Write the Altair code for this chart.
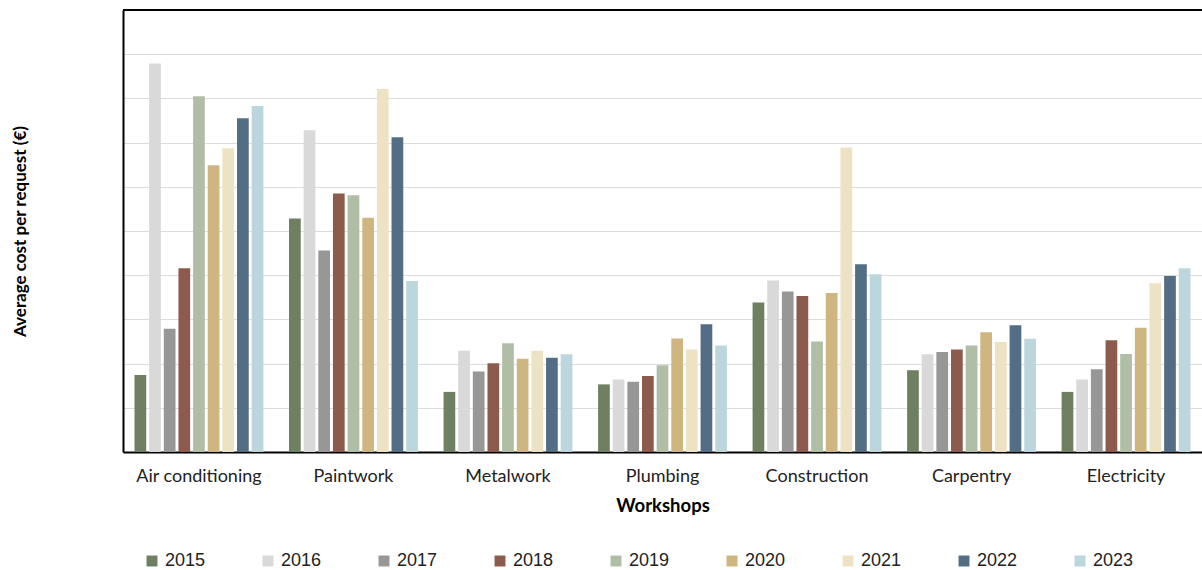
import altair as alt
import pandas as pd

workshops = ["Air conditioning", "Paintwork", "Metalwork", "Plumbing",
             "Construction", "Carpentry", "Electricity"]
years = ["2015", "2016", "2017", "2018", "2019", "2020", "2021", "2022", "2023"]
colors = ["#6e7f62", "#d9d9d9", "#969796", "#8c5b4d", "#b0bea5",
          "#cfb580", "#ede2c3", "#536e84", "#bcd6de"]

values = {
    "Air conditioning": [1.74, 8.79, 2.79, 4.16, 8.05, 6.49, 6.87, 7.55, 7.83],
    "Paintwork":        [5.28, 7.28, 4.56, 5.85, 5.81, 5.30, 8.21, 7.12, 3.87],
    "Metalwork":        [1.36, 2.29, 1.82, 2.01, 2.46, 2.11, 2.29, 2.13, 2.21],
    "Plumbing":         [1.53, 1.64, 1.59, 1.72, 1.96, 2.57, 2.32, 2.89, 2.41],
    "Construction":     [3.38, 3.88, 3.63, 3.53, 2.50, 3.60, 6.89, 4.25, 4.02],
    "Carpentry":        [1.85, 2.21, 2.26, 2.32, 2.41, 2.71, 2.49, 2.87, 2.56],
    "Electricity":      [1.36, 1.64, 1.87, 2.53, 2.22, 2.81, 3.82, 3.98, 4.16],
}
grid_values = [0, 1, 2, 3, 4, 5, 6, 7, 8, 9, 10]

rows = []
for w in workshops:
    for y, v in zip(years, values[w]):
        rows.append({"workshop": w, "year": y, "cost": v})
df = pd.DataFrame(rows)

yaxis = alt.Axis(title="Average cost per request (€)", labels=False,
                 ticks=False, values=grid_values, labelOverlap=False,
                 grid=True, gridColor="#dcdcdc", gridWidth=1.2,
                 domainColor="#000000", domainWidth=2,
                 titlePadding=94, titleFont="Lato", titleFontSize=17,
                 titleFontWeight="bold", titleColor="#000000")

bars = alt.Chart(df).mark_bar().encode(
    x=alt.X("workshop:N", sort=workshops,
            scale=alt.Scale(paddingInner=0.147, paddingOuter=0.065),
            axis=alt.Axis(title="Workshops", labelAngle=0, ticks=False,
                          labelPadding=15, titlePadding=11,
                          labelFont="Lato", labelFontSize=18, labelColor="#222222",
                          titleFont="Lato", titleFontSize=18.5, titleFontWeight="bold",
                          titleColor="#000000",
                          domainColor="#000000", domainWidth=2)),
    xOffset=alt.XOffset("year:N", sort=years,
                        scale=alt.Scale(paddingInner=0.2, paddingOuter=0.1)),
    y=alt.Y("cost:Q", scale=alt.Scale(domain=[0, 10], nice=False), axis=yaxis),
    color=alt.Color("year:N", sort=years,
                    scale=alt.Scale(domain=years, range=colors),
                    legend=alt.Legend(title=None, orient="none", direction="horizontal",
                                      columns=9, legendX=20, legendY=542,
                                      symbolType="square", symbolSize=120,
                                      symbolStrokeWidth=0,
                                      labelFont="Liberation Sans", labelFontSize=18,
                                      labelColor="#222222", labelOffset=4,
                                      columnPadding=53)),
)

top = alt.Chart(pd.DataFrame({"v": [10]})).mark_rule(color="#000000", strokeWidth=2).encode(
    y=alt.value(0)
)

chart = alt.layer(bars, top).properties(
    width=1079, height=442,
    autosize=alt.AutoSizeParams(type="none"),
    padding={"left": 123, "top": 10, "right": 0, "bottom": 118},
).configure_view(stroke=None)

chart.save("out.html", embed_options={"renderer": "svg", "actions": False})
